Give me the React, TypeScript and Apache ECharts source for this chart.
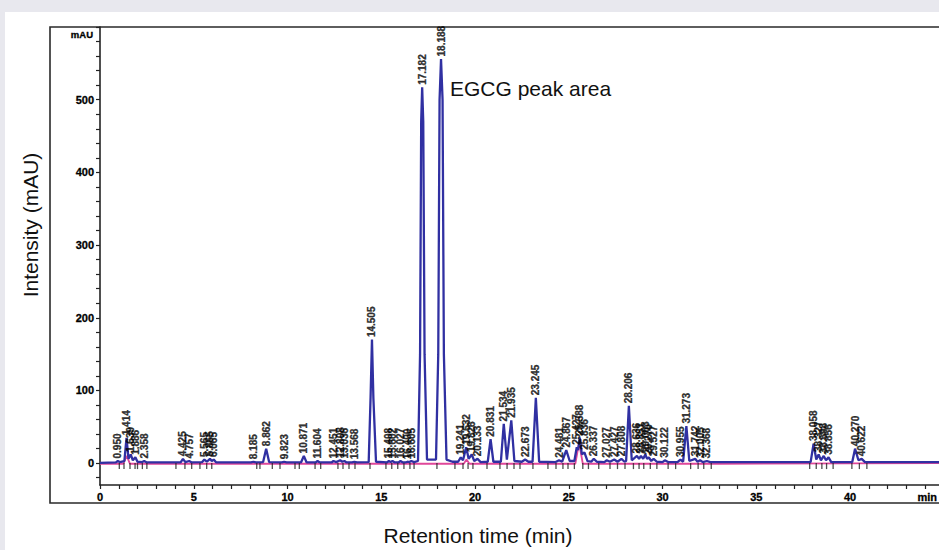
import React, { useEffect, useRef } from "react";
import * as echarts from "echarts";

// ---- data ----
// main (blue) trace: [retention time (min), intensity (mAU)]
const blueTrace: [number, number][] = [
  [0, 0.5],
  [0.85, 1], [0.95, 3], [1.05, 1.5],
  [1.3, 3], [1.414, 35], [1.52, 6], [1.639, 12], [1.75, 4], [1.886, 8], [2.0, 2],
  [2.25, 1.5], [2.358, 3], [2.5, 1],
  [4.3, 1], [4.425, 6], [4.55, 1.5], [4.757, 3], [4.9, 1],
  [5.45, 1.5], [5.565, 5], [5.7, 2], [5.865, 6], [5.96, 3], [6.065, 5], [6.2, 1],
  [8.05, 1], [8.185, 2], [8.3, 1],
  [8.7, 1.5], [8.862, 20], [9.02, 1.5],
  [9.7, 1], [9.823, 2], [9.95, 1],
  [10.72, 1], [10.871, 10], [11.02, 1],
  [11.5, 1], [11.604, 3], [11.72, 1],
  [12.35, 1], [12.451, 3], [12.6, 1.5], [12.808, 4], [12.92, 2], [13.036, 3], [13.15, 1],
  [13.45, 1], [13.568, 2], [13.7, 1],
  [14.33, 1.5], [14.43, 90], [14.505, 170], [14.58, 90], [14.72, 2],
  [15.3, 1], [15.408, 3], [15.5, 1.5], [15.602, 3], [15.72, 1],
  [15.92, 1], [16.027, 3], [16.15, 1], [16.3, 1], [16.4, 2], [16.5, 1.5], [16.605, 3], [16.75, 1.5],
  [16.96, 3], [17.07, 150], [17.13, 470], [17.182, 517], [17.24, 470], [17.31, 150], [17.44, 5],
  [17.92, 5], [18.04, 150], [18.11, 500], [18.188, 556], [18.27, 500], [18.34, 150], [18.48, 5],
  [18.8, 2], [19.1, 2], [19.241, 8], [19.36, 4], [19.532, 22], [19.66, 6], [19.826, 12], [19.96, 3], [20.133, 6], [20.3, 1.5],
  [20.68, 2], [20.831, 33], [20.98, 2],
  [21.38, 2], [21.534, 54], [21.7, 5], [21.935, 59], [22.1, 3],
  [22.5, 2], [22.673, 5], [22.85, 2],
  [23.07, 2], [23.245, 90], [23.42, 2],
  [24.3, 1.5], [24.481, 4], [24.65, 2], [24.867, 18], [25.05, 3],
  [25.3, 3], [25.427, 22], [25.5, 18], [25.588, 35], [25.7, 12], [25.836, 15], [26.0, 3],
  [26.2, 2], [26.337, 6], [26.5, 2],
  [26.9, 1.5], [27.027, 4], [27.2, 2], [27.427, 5], [27.6, 2], [27.808, 6], [27.98, 2],
  [28.06, 3], [28.206, 79], [28.36, 4], [28.636, 10], [28.75, 6], [28.851, 10], [28.97, 6], [29.083, 12], [29.18, 6], [29.27, 8], [29.4, 3], [29.527, 6], [29.7, 2],
  [30.0, 1.5], [30.122, 4], [30.3, 1.5],
  [30.8, 1.5], [30.955, 5], [31.1, 2], [31.273, 51], [31.43, 3], [31.742, 6], [31.87, 2], [32.005, 4], [32.15, 1.5], [32.368, 3], [32.55, 1.5],
  [37.9, 1.5], [38.058, 27], [38.2, 5], [38.327, 12], [38.45, 4], [38.598, 10], [38.72, 4], [38.856, 8], [39.0, 1.5],
  [40.12, 1.5], [40.27, 20], [40.45, 4], [40.622, 6], [40.8, 1.5],
  [45, 1.5],
];

// secondary (magenta) trace
const pinkTrace: [number, number][] = [
  [0, -0.8], [1.25, -0.8], [1.42, 10], [1.6, -0.8],
  [19.4, -0.8], [19.55, 5], [19.7, -0.8],
  [25.35, -0.8], [25.55, 28], [25.75, -0.8],
  [33, -0.8], [45, 0],
];

// labelled peaks: retention time and apex height (mAU)
const peakTimes = [
  0.95, 1.414, 1.639, 1.886, 2.358,
  4.425, 4.757, 5.565, 5.865, 6.065,
  8.185, 8.862, 9.823, 10.871, 11.604, 12.451, 12.808, 13.036, 13.568,
  14.505, 15.408, 15.602, 16.027, 16.4, 16.605,
  17.182, 18.188,
  19.241, 19.532, 19.826, 20.133, 20.831, 21.534, 21.935, 22.673, 23.245,
  24.481, 24.867, 25.427, 25.588, 25.836, 26.337, 27.027, 27.427, 27.808,
  28.206, 28.636, 28.851, 29.083, 29.27, 29.527, 30.122, 30.955, 31.273, 31.742, 32.005, 32.368,
  38.058, 38.327, 38.598, 38.856, 40.27, 40.622,
];
const peakHeights = [
  3, 35, 12, 8, 3,
  6, 3, 5, 6, 5,
  2, 20, 2, 10, 3, 3, 4, 3, 2,
  170, 3, 3, 3, 2, 3,
  517, 556,
  8, 22, 12, 6, 33, 54, 59, 5, 90,
  4, 18, 22, 35, 15, 6, 4, 5, 6,
  79, 10, 10, 12, 8, 6, 4, 5, 51, 6, 4, 3,
  27, 12, 10, 8, 20, 6,
];

// integration start/end marks below the baseline (min)
const markerTimes = [
  1.03, 1.28, 1.6, 1.87, 2.0, 2.26, 2.5,
  4.05, 4.53, 4.89, 5.33, 5.69, 5.96,
  8.36, 8.53, 9.19, 9.6, 10.4, 10.63,
  11.47, 11.77, 12.69, 12.96, 13.28, 13.6, 14.4,
  15.25, 15.56, 15.88, 16.21, 16.53, 16.75, 17.97,
  18.93, 19.36, 19.63, 19.89, 20.64, 21.33, 21.71, 22.08, 22.4, 23.09,
  23.89, 24.32, 24.69, 24.96, 25.3, 25.75, 26.05, 26.6, 27.2, 27.6, 28.0,
  28.45, 28.75, 29.0, 29.35, 29.7, 30.3, 30.7, 31.5, 31.9, 32.2, 32.6,
  37.85, 38.2, 38.5, 38.75, 39.1, 40.1, 40.5, 40.9,
];

const yTicksMajor = [0, 100, 200, 300, 400, 500];
const xUnitLabel = "min";
const yUnitLabel = "mAU";

const NARROW = "'Liberation Sans Narrow', 'Arial Narrow', 'Liberation Sans', Arial, sans-serif";
const SANS = "'Liberation Sans', Arial, Helvetica, sans-serif";

export default function App() {
  const ref = useRef<HTMLDivElement>(null);

  useEffect(() => {
    if (!ref.current) return;
    const chart = echarts.init(ref.current, undefined, { renderer: "svg" });

    const labelData = peakTimes.map((t, i) => ({
      value: [t, peakHeights[i]],
      label: { formatter: t.toFixed(3) },
    }));

    chart.setOption({
      animation: false,
      backgroundColor: "#ffffff",
      grid: [
        { left: 95, right: 56.25, top: 15, bottom: 65 },
        { left: 95, right: 56.25, top: 15, bottom: 72.27 },
      ],
      xAxis: [
        {
          type: "value",
          gridIndex: 0,
          min: 0,
          max: 45,
          interval: 5,
          axisLine: { onZero: false, lineStyle: { color: "#222", width: 1.6 } },
          axisTick: { show: true, length: 4, lineStyle: { color: "#222", width: 1.2 } },
          minorTick: { show: true, splitNumber: 5, length: 4, lineStyle: { color: "#222", width: 1.2 } },
          splitLine: { show: false },
          axisLabel: {
            color: "#000",
            fontFamily: NARROW,
            fontWeight: "bold",
            fontSize: 11,
            margin: 6,
            textBorderColor: "#000",
            textBorderWidth: 0.3,
            formatter: (v: number) => (v === 45 ? "" : String(v)),
          },
        },
        { type: "value", gridIndex: 1, min: 0, max: 45, show: false },
      ],
      yAxis: [
        {
          type: "value",
          gridIndex: 0,
          min: -30,
          max: 600,
          axisLine: { show: true, onZero: false, lineStyle: { color: "#222", width: 1.6 } },
          axisTick: { show: false },
          axisLabel: { show: false },
          splitLine: { show: false },
        },
        {
          type: "value",
          gridIndex: 1,
          min: -20,
          max: 600,
          interval: 20,
          axisLine: { show: false },
          axisTick: { show: true, length: 4, lineStyle: { color: "#222", width: 1.2 } },
          splitLine: { show: false },
          axisLabel: {
            color: "#000",
            fontFamily: NARROW,
            fontWeight: "bold",
            fontSize: 11,
            margin: 6,
            textBorderColor: "#000",
            textBorderWidth: 0.3,
            formatter: (v: number) => (yTicksMajor.indexOf(v) >= 0 ? String(v) : ""),
          },
        },
      ],
      series: [
        {
          type: "line",
          name: "trace2",
          xAxisIndex: 0,
          yAxisIndex: 0,
          data: pinkTrace,
          showSymbol: false,
          symbol: "none",
          lineStyle: { color: "#e0479a", width: 1.8 },
          z: 2,
        },
        {
          type: "line",
          name: "trace1",
          xAxisIndex: 0,
          yAxisIndex: 0,
          data: blueTrace,
          showSymbol: false,
          symbol: "none",
          lineStyle: { color: "#3030a2", width: 2.3 },
          z: 3,
        },
        {
          type: "scatter",
          name: "marks",
          xAxisIndex: 0,
          yAxisIndex: 0,
          data: markerTimes.map((t) => [t, -4]),
          symbol: "rect",
          symbolSize: [1.3, 6],
          itemStyle: { color: "#222" },
          z: 4,
        },
        {
          type: "scatter",
          name: "peaks",
          xAxisIndex: 0,
          yAxisIndex: 0,
          data: labelData,
          symbolSize: 1,
          itemStyle: { color: "rgba(0,0,0,0)" },
          z: 5,
          label: {
            show: true,
            position: "top",
            distance: 2,
            rotate: 90,
            align: "left",
            verticalAlign: "middle",
            color: "#000",
            fontFamily: NARROW,
            fontWeight: "bold",
            fontSize: 10,
            textBorderColor: "#000",
            textBorderWidth: 0.35,
          },
          labelLayout: { hideOverlap: false },
        },
      ],
      graphic: [
        {
          type: "rect",
          shape: { x: 45, y: 15, width: 1000, height: 476 },
          style: { fill: "none", stroke: "#2a2a2a", lineWidth: 1.6 },
          z: 0,
          silent: true,
        },
        {
          type: "text",
          x: 88,
          y: 22,
          style: {
            text: yUnitLabel,
            fontFamily: NARROW,
            fontWeight: "bold",
            fontSize: 9.5,
            fill: "#000",
            stroke: "#000",
            lineWidth: 0.3,
            align: "right",
            verticalAlign: "middle",
          },
        },
        {
          type: "text",
          x: 932,
          y: 485,
          style: {
            text: xUnitLabel,
            fontFamily: NARROW,
            fontWeight: "bold",
            fontSize: 11,
            fill: "#000",
            stroke: "#000",
            lineWidth: 0.3,
            align: "right",
            verticalAlign: "middle",
          },
        },
        {
          type: "text",
          x: 25,
          y: 213,
          rotation: Math.PI / 2,
          style: {
            text: "Intensity (mAU)",
            fontFamily: SANS,
            fontSize: 21,
            fill: "#111",
            align: "center",
            verticalAlign: "middle",
          },
        },
        {
          type: "text",
          x: 473,
          y: 523,
          style: {
            text: "Retention time (min)",
            fontFamily: SANS,
            fontSize: 21,
            fill: "#111",
            align: "center",
            verticalAlign: "middle",
          },
        },
        {
          type: "text",
          x: 445,
          y: 76,
          style: {
            text: "EGCG peak area",
            fontFamily: SANS,
            fontSize: 21,
            fill: "#111",
            align: "left",
            verticalAlign: "middle",
          },
        },
      ],
    });

    return () => chart.dispose();
  }, []);

  return (
    <div
      style={{
        position: "fixed",
        left: 0,
        top: 0,
        width: 939,
        height: 550,
        overflow: "hidden",
        background: "#e8e8ee",
      }}
    >
      <div
        ref={ref}
        style={{ position: "absolute", left: 5, top: 12, width: 995, height: 538 }}
      />
    </div>
  );
}
